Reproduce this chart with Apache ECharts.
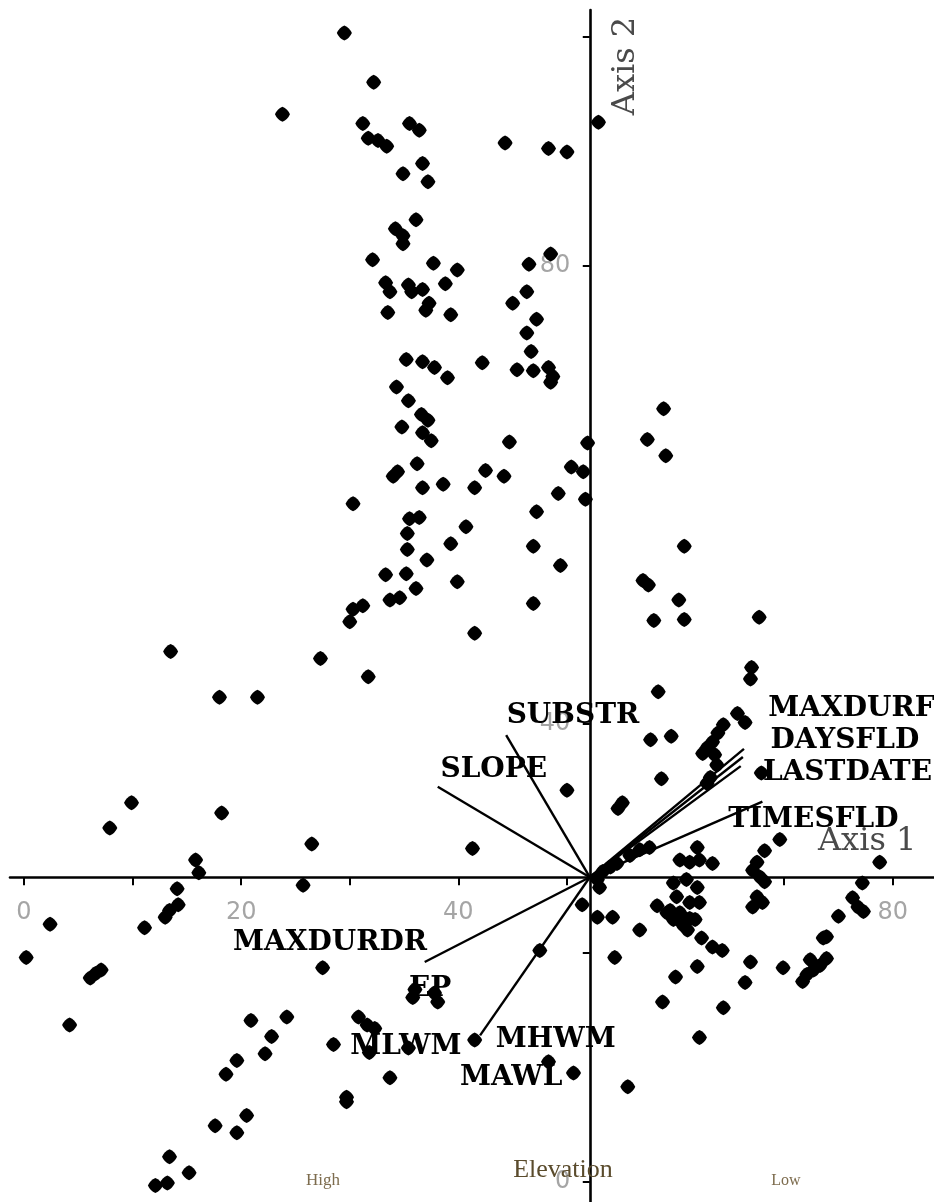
<!DOCTYPE html>
<html>
<head>
<meta charset="utf-8">
<script src="https://cdn.jsdelivr.net/npm/echarts@6/dist/echarts.min.js"></script>
<style>
html,body{margin:0;padding:0;background:#fff;}
#chart{width:934px;height:1202px;}
</style>
</head>
<body>
<div id="chart"></div>
<script>
// ---- Data (ordination scores, Axis 1 = x, Axis 2 = y) ----
const siteScores = [
[29.5,100.3],[32.2,96.0],[23.8,93.2],[31.2,92.4],[31.7,91.1],[32.6,90.9],[33.4,90.4],[35.5,92.4],[36.4,91.8],[36.7,88.9],
[34.9,88.0],[37.2,87.3],[44.3,90.7],[48.3,90.2],[50.0,89.9],[52.9,92.5],[36.1,84.0],[34.2,83.2],[34.9,82.6],[34.9,81.9],
[32.1,80.5],[37.7,80.2],[39.9,79.6],[46.5,80.1],[48.5,81.0],[38.8,78.4],[33.3,78.5],[33.7,77.7],[35.4,78.3],[35.7,77.7],
[36.7,77.9],[37.3,76.7],[37.0,76.1],[33.5,75.9],[39.3,75.7],[46.3,77.7],[45.0,76.7],[47.2,75.3],[46.3,74.1],[46.7,72.5],
[45.4,70.9],[46.9,70.8],[48.3,71.1],[48.7,70.3],[48.5,69.8],[42.2,71.5],[35.2,71.8],[36.7,71.6],[37.8,71.1],[39.0,70.2],
[34.3,69.4],[35.4,68.2],[36.6,67.0],[37.2,66.5],[34.8,65.9],[36.7,65.4],[37.5,64.7],[44.7,64.6],[51.9,64.5],[36.2,62.7],
[34.4,62.0],[34.0,61.6],[36.7,60.6],[38.6,60.9],[41.5,60.6],[42.5,62.1],[44.2,61.6],[50.4,62.4],[51.5,62.0],[49.2,60.1],
[51.7,59.6],[30.3,59.2],[36.4,58.0],[35.5,57.9],[35.3,56.6],[35.3,55.2],[40.7,57.2],[39.3,55.7],[47.2,58.5],[46.9,55.5],
[37.1,54.3],[49.4,53.8],[33.3,53.0],[35.2,53.1],[39.9,52.4],[36.1,51.8],[33.7,50.8],[34.6,51.0],[31.2,50.3],[30.3,50.0],
[30.0,48.9],[46.9,50.5],[41.5,47.9],[13.5,46.3],[18.0,42.3],[21.5,42.3],[27.3,45.7],[31.7,44.1],[9.9,33.1],[7.9,30.9],
[18.2,32.2],[15.8,28.1],[16.1,27.0],[14.1,25.6],[26.5,29.5],[25.7,25.9],[41.3,29.1],[50.0,34.2],
[58.9,67.5],[57.4,64.8],[59.1,63.4],[60.8,55.5],[57.0,52.5],[57.5,52.1],[60.3,50.8],[58.0,49.0],[60.8,49.1],[67.7,49.3],
[67.0,44.9],[66.9,43.9],[58.4,42.8],[57.7,38.6],[59.6,38.9],[58.7,35.2],[55.1,33.1],[54.7,32.6],[67.9,35.7],
[65.7,40.9],[66.4,40.1],[64.4,39.9],[63.9,39.2],[63.4,38.4],[62.9,37.9],[62.5,37.4],[63.6,37.3],[63.8,36.4],[63.2,35.3],[62.9,34.8],
[69.6,29.9],[68.2,28.9],[67.5,27.9],[67.1,27.2],[67.8,26.6],[68.2,26.2],[67.5,24.9],[68.0,24.4],[67.1,24.0],
[78.8,27.9],[77.2,26.1],[76.3,24.8],[76.8,24.0],[77.3,23.6],[75.0,23.2],[73.9,21.4],[73.6,21.3],[73.9,19.5],[73.3,18.9],
[72.7,18.5],[72.1,18.1],[71.7,17.5],[72.4,19.4],[69.9,18.7],[66.9,19.2],[66.4,17.4],[64.3,20.2],[63.4,20.5],[62.4,21.3],
[62.0,18.8],[60.0,17.9],[58.8,15.7],[64.4,15.2],[56.7,22.0],[54.4,19.6],[52.8,23.1],[54.2,23.1],[58.3,24.1],
[60.4,28.1],[61.3,27.9],[62.2,28.1],[63.4,27.8],[62.0,29.2],[59.8,26.1],[61.0,26.4],[62.0,25.7],[60.1,24.9],[61.3,24.4],
[62.2,24.4],[59.5,23.7],[60.4,23.5],[61.3,23.0],[59.8,22.9],[60.7,22.4],[61.1,22.0],[61.8,22.9],[59.2,23.5],
[56.7,29.0],[57.6,29.2],[55.8,28.5],[52.8,26.4],[53.3,27.1],[54.0,27.5],[54.6,27.8],[53.0,25.7],
[55.6,8.3],[62.2,12.6],
[2.4,22.5],[0.2,19.6],[4.2,13.7],[11.1,22.2],[13.0,23.1],[13.4,23.7],[14.2,24.2],[6.1,17.8],[6.6,18.2],[7.1,18.5],
[27.5,18.7],[36.0,16.8],[37.8,16.5],[35.8,16.1],[38.1,15.7],[30.8,14.4],[31.6,13.7],[32.3,13.4],[28.5,12.0],[31.8,11.3],
[35.4,11.7],[41.5,12.4],[33.7,9.1],[29.7,7.4],[29.7,7.0],[20.9,14.1],[24.2,14.4],[22.8,12.7],[22.2,11.2],[19.6,10.6],
[18.6,9.4],[20.5,5.8],[17.6,4.9],[19.6,4.3],[13.4,2.2],[15.2,0.8],[12.1,-0.3],[13.2,-0.1],[48.3,10.5],[50.6,9.5],
[47.5,20.2],[51.4,24.2]
];

// Environmental vectors (biplot arrows) drawn from the centroid
const vectorOrigin = [52.1, 26.6];
const vectorNames = ['SUBSTR','SLOPE','MAXDURFL','DAYSFLD','LASTDATE','TIMESFLD','MAXDURDR','MHWM'];
const vectorEndX  = [44.4, 38.1, 66.3, 66.2, 66.0, 68.0, 36.9, 42.0];
const vectorEndY  = [39.0, 34.5, 37.8, 37.1, 36.3, 33.2, 19.2, 12.8];

// Vector labels (text and anchor in axis units)
const labelNames = ['SUBSTR','SLOPE','MAXDURFL','DAYSFLD','LASTDATE','TIMESFLD','MAXDURDR','EP','MLWM','MHWM','MAWL'];
const labelX     = [44.4, 38.3, 68.5, 68.7, 68.0, 64.8, 19.2, 35.4, 30.0, 43.4, 40.1];
const labelY     = [40.7, 36.0, 41.3, 38.5, 35.7, 31.6, 20.9, 16.9, 11.8, 12.4, 9.1];

// Axis ticks / labels
const xTickValues  = [0,10,20,30,40,50,60,70,80];
const xLabelValues = [0,20,40,80];
const yTickValues  = [0,20,40,60,80,100];
const yLabelValues = [0,40,80];
const xRange = [-1.29, 83.8];
const yRange = [-1.75, 102.3];

// ---- Chart ----
const chart = echarts.init(document.getElementById('chart'));
const axisLineStyle = {color:'#000', width:2.6};
const tickLabelStyle = {color:'#8e8e8e', fontFamily:'DejaVu Sans', fontSize:24};

const option = {
  animation:false,
  backgroundColor:'#fff',
  grid:{left:10,right:0,top:10,bottom:0,containLabel:false,outerBoundsMode:'none'},
  xAxis:[{
    type:'value', min:xRange[0], max:xRange[1],
    axisLine:{show:true,onZero:true,onZeroAxisIndex:1,lineStyle:axisLineStyle},
    axisTick:{show:true,length:8,customValues:xTickValues,lineStyle:{color:'#000',width:2}},
    axisLabel:{show:false},
    splitLine:{show:false}
  },{
    type:'value', show:false, min:xRange[0]-vectorOrigin[0], max:xRange[1]-vectorOrigin[0],
    splitLine:{show:false}
  }],
  yAxis:[{
    type:'value', min:yRange[0], max:yRange[1],
    axisLine:{show:true,onZero:true,onZeroAxisIndex:1,lineStyle:axisLineStyle},
    axisTick:{show:true,length:7,customValues:yTickValues,lineStyle:{color:'#000',width:2}},
    axisLabel:{show:false},
    splitLine:{show:false}
  },{
    type:'value', show:false, min:yRange[0]-vectorOrigin[1], max:yRange[1]-vectorOrigin[1],
    splitLine:{show:false}
  }],
  series:[
    {
      name:'xTickLabels', type:'scatter', xAxisIndex:0, yAxisIndex:0, silent:true,
      symbolSize:1, itemStyle:{color:'rgba(0,0,0,0)'}, z:2,
      label:{show:true, position:'bottom', distance:23, formatter:(p)=>String(p.value[0]), ...tickLabelStyle},
      data:xLabelValues.map(v=>[v, vectorOrigin[1]])
    },
    {
      name:'yTickLabels', type:'scatter', xAxisIndex:0, yAxisIndex:0, silent:true,
      symbolSize:1, itemStyle:{color:'rgba(0,0,0,0)'}, z:2,
      label:{show:true, position:'left', distance:19, formatter:(p)=>String(p.value[1]), ...tickLabelStyle},
      data:yLabelValues.map(v=>[vectorOrigin[0], v])
    },
    {
      name:'sites', type:'scatter', xAxisIndex:0, yAxisIndex:0,
      symbol:'path://M0,-10 Q7,-7 10,0 Q7,7 0,10 Q-7,7 -10,0 Q-7,-7 0,-10 Z',
      symbolSize:15, itemStyle:{color:'#000',opacity:1}, z:3,
      data:siteScores
    },
    {
      name:'vectors', type:'lines', coordinateSystem:'cartesian2d', xAxisIndex:0, yAxisIndex:0,
      lineStyle:{color:'#000',width:2.4,opacity:1}, z:4,
      data:vectorNames.map((n,i)=>({name:n, coords:[vectorOrigin,[vectorEndX[i],vectorEndY[i]]]}))
    },
    {
      name:'vectorLabels', type:'scatter', xAxisIndex:0, yAxisIndex:0,
      symbolSize:1, itemStyle:{color:'rgba(0,0,0,0)',opacity:1}, z:5, silent:true,
      label:{show:true, position:'right', distance:0, formatter:'{b}', opacity:1,
        color:'#000', fontFamily:'DejaVu Serif', fontWeight:'bold', fontSize:28},
      data:labelNames.map((n,i)=>({name:n, value:[labelX[i],labelY[i]]}))
    }
  ],
  graphic:[
    {type:'text', x:818, y:842, z:10, style:{text:'Axis 1', font:'32px "DejaVu Serif"', fill:'#4a4a4a', textVerticalAlign:'middle', verticalAlign:'middle'}},
    {type:'text', x:626, y:66, rotation:Math.PI/2, z:10, style:{text:'Axis 2', font:'32px "DejaVu Serif"', fill:'#4a4a4a', textAlign:'center', align:'center', textVerticalAlign:'middle', verticalAlign:'middle'}},
    {type:'text', x:563, y:1170, z:10, style:{text:'Elevation', font:'26px "Liberation Serif"', fill:'#5a4b2c', textAlign:'center', align:'center', textVerticalAlign:'middle', verticalAlign:'middle'}},
    {type:'text', x:323, y:1181, z:10, style:{text:'High', font:'17px "Liberation Serif"', fill:'#7d6c4e', textAlign:'center', align:'center', textVerticalAlign:'middle', verticalAlign:'middle'}},
    {type:'text', x:786, y:1181, z:10, style:{text:'Low', font:'16px "Liberation Serif"', fill:'#7d6c4e', textAlign:'center', align:'center', textVerticalAlign:'middle', verticalAlign:'middle'}}
  ]
};
chart.setOption(option);
</script>
</body>
</html>
